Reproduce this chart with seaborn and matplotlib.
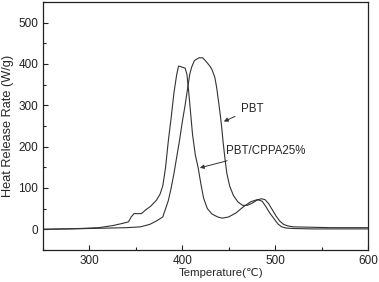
import matplotlib

matplotlib.use("Agg")
import matplotlib.pyplot as plt
import pandas as pd
import seaborn as sns
from matplotlib.ticker import MultipleLocator

# curves (temperature in C, heat release rate in W/g)
cppa_temp = [250, 270, 290, 310, 325, 335, 342, 345, 348, 356, 360, 366, 372, 376,
             379, 382, 385, 388, 391, 394, 396, 399, 403, 405, 407, 409, 411, 414,
             417, 420, 423, 427, 432, 438, 443, 450, 458, 466, 474, 481, 486, 490,
             494, 499, 503, 507, 512, 520, 540, 560, 580, 600]
cppa_hrr = [0, 1, 2, 4, 9, 14, 18, 30, 38, 38, 46, 56, 70, 85,
            105, 150, 215, 270, 330, 375, 395, 393, 390, 375, 330, 280, 230, 180,
            150, 110, 75, 50, 37, 30, 27, 30, 40, 55, 67, 72, 68, 55,
            40, 25, 13, 6, 3, 2, 1, 1, 1, 1]

pbt_temp = [250, 280, 300, 320, 340, 355, 365, 372, 379, 382, 385, 388, 391, 394,
            397, 400, 403, 406, 408, 410, 413, 418, 422, 426, 430, 432, 435, 437,
            439, 441, 442.5, 444, 446, 448, 451, 455, 460, 465, 470, 475, 480, 485,
            489, 493, 497, 501, 505, 509, 514, 520, 540, 560, 580, 600]
pbt_hrr = [0, 1, 2, 3, 4, 6, 12, 20, 30, 50, 70, 100, 135, 175,
           215, 260, 300, 345, 375, 392, 408, 415, 415, 405, 394, 386, 368, 343,
           310, 275, 245, 210, 170, 135, 105, 82, 66, 58, 58, 63, 70, 74,
           72, 62, 47, 32, 20, 12, 8, 6, 5, 4, 4, 4]

x_ticks = [300, 400, 500, 600]
y_ticks = [0, 100, 200, 300, 400, 500]

df = pd.concat([
    pd.DataFrame({"temp": pbt_temp, "hrr": pbt_hrr, "sample": "PBT"}),
    pd.DataFrame({"temp": cppa_temp, "hrr": cppa_hrr, "sample": "PBT/CPPA25%"}),
])

sns.set_style("ticks")
plt.rcParams["font.family"] = ["Liberation Sans", "DejaVu Sans"]

fig = plt.figure(figsize=(3.79, 2.82), dpi=100)
ax = fig.add_axes([0.1135, 0.1135, 0.8575, 0.8795])

sns.lineplot(data=df, x="temp", y="hrr", hue="sample", palette=["#333333", "#333333"],
             linewidth=0.8, legend=False, sort=False, estimator=None, ax=ax)

ax.set_xlim(250, 600)
ax.set_ylim(-50, 550)
ax.set_xticks(x_ticks)
ax.set_yticks(y_ticks)
ax.xaxis.set_minor_locator(MultipleLocator(50))
ax.yaxis.set_minor_locator(MultipleLocator(50))
ax.tick_params(which="both", direction="in", labelsize=8.5, width=0.8, colors="#222222")
ax.tick_params(which="major", length=3.5)
ax.tick_params(which="minor", length=2)
for sp in ax.spines.values():
    sp.set_linewidth(0.9)
    sp.set_color("#222222")

ax.set_xlabel("Temperature(\u2103)", fontsize=8.2, labelpad=1)
ax.xaxis.label.set_x(0.548)
ax.set_ylabel("Heat Release Rate (W/g)", fontsize=9.2, labelpad=3)

arrow = dict(arrowstyle="-|>", color="#333333", lw=0.7, mutation_scale=6)
ax.annotate("PBT", xy=(442, 258), xytext=(463, 292), fontsize=8.3,
            va="center", ha="left", arrowprops=arrow)
ax.annotate("PBT/CPPA25%", xy=(416, 147), xytext=(447, 190), fontsize=8.3,
            va="center", ha="left", arrowprops=arrow)

fig.savefig("out.png", dpi=100)
